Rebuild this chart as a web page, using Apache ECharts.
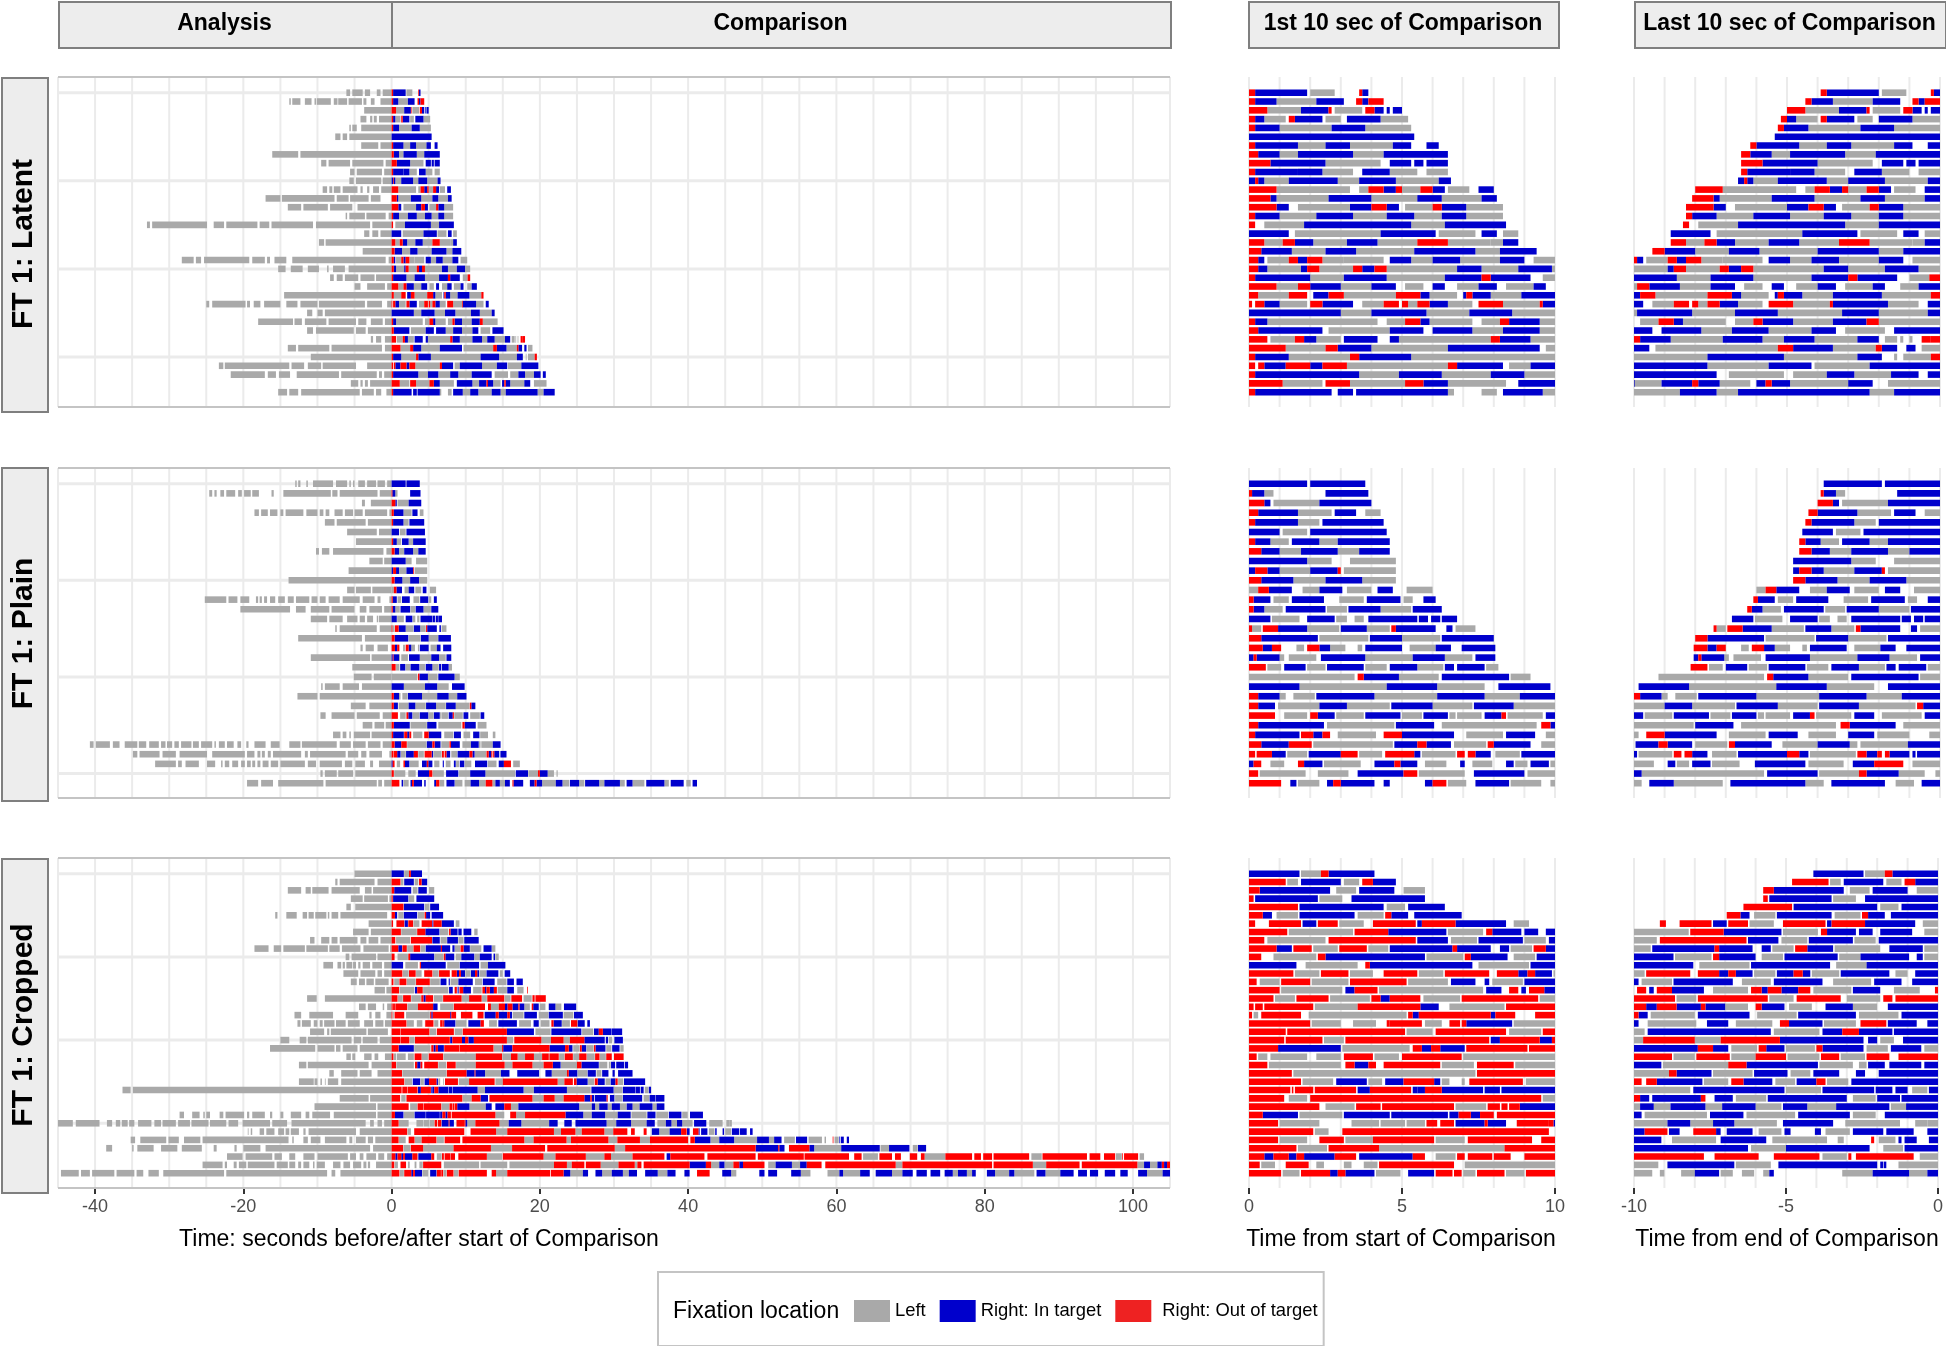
<!DOCTYPE html>
<html><head><meta charset="utf-8">
<style>html,body{margin:0;padding:0;background:#fff}#c{width:1946px;height:1346px}</style>
<script src="https://cdn.jsdelivr.net/npm/echarts@6/dist/echarts.min.js"></script>
</head><body><div id="c"></div>
<script>
// Comparison rows: tokens are <code><end second>; g=Left, b=Right in target, r=Right out of target, _=no fixation.
const latentComparison = [
"r.2 b1.9 _2 g2.8 _3.6 r3.7 b3.9",
"r.2 b.9 g2.2 b3.1 _3.5 r3.7 b3.9 r4.4",
"r.6 _.6 g1.7 b2.6 r2.7 _2.8 g3.7 _3.8 r4.1 _4.1 b4.4 _4.5 b4.6 _4.7 b5",
"r.2 b.5 g1.2 _1.3 r1.5 b2.4 _2.5 g3 _3.2 b4.3 g5.2",
"r.2 b1 g2.7 b3.8 g5.3",
"b5.4",
"r.2 b1.6 g2.5 b3.3 g4.7 b5.3 _5.8 b6.2",
"r.3 b1 g1.6 b3.4 g4.4 b6.5",
"r.7 b2.5 g4.3 _4.6 b5.3 _5.4 b5.7 _5.8 b6.5",
"r.2 b1.6 _1.6 b2.4 g3.4 _3.7 b4.6 g5.5 _5.8 g6.5",
"b.2 r.3 b.5 g1.3 b2.9 g3.6 b4.8 g6.2 b6.6",
"r.9 _.9 g3.3 _3.6 g3.9 r4.4 b4.8 r5 g5.6 r6 b6.4 _6.5 g7.2 _7.5 b8",
"r.7 b.9 g2.6 b4 g5.5 b6.3 g7.6 b8.1",
"r.9 b1.3 _1.6 g3.3 b4 r4.5 b4.9 _5.1 g6 r6.3 b7.1 g8.3",
"r.2 b1 g2.2 b3.4 g4.5 b5.4 g6.3 b7.1 g8.3",
"r.2 _.5 g1.8 b5.3 g6.4 b8.4",
"b1.3 _1.5 g4.3 b6.1 _6.2 g7.4 _7.6 b8.1 _8.3 g8.8",
"r.5 g1.1 r1.5 b2.1 g3.2 b4.2 g5.5 r6.5 g7.9 _7.9 g8.3 b8.8",
"r.4 b1.4 g2.5 b3.5 g5.4 b7.4 g8.2 b9.4",
"r.3 b.5 _.6 g1.3 r1.6 b1.9 r2.4 g3.1 g4.4 _4.6 b5.3 g6 b6.9 g8.2 b9 _9.3 g10.2",
"r.3 b.6 g1.7 b1.9 r2.3 g3.4 r3.7 b4.1 r4.5 g6.8 b7.6 g8.8 b9.9 g10.6",
"r.2 b2 g3.1 b4.5 g6.4 b7.6 r7.9 b9.2 _9.6 g10.25 r10.6",
"r.9 g1.6 r2 b3 g4 b4.8 _5.1 g5.7 _6 b6.4 _6.8 g7.5 b8.1 _8.4 g9.3 b9.7 _10.2 g10.8 b11.5",
"r.3 g1.3 r1.9 _2.1 b2.6 r3.1 g4.8 r5.6 b5.9 g6.8 _7 b7.1 r7.3 b7.9 g8.9 b10.5 g12.1 r12.4",
"r.1 _.2 r.5 b1 g1.9 _2 r2.4 b3.4 _3.7 g4.4 r4.9 _5 r5.2 g5.5 r5.9 b6.5 g7.3 _7.5 r8.3 g9.5 r9.6 b11.4 g12.4 _12.7 b13.1",
"b3 g4 b5.8 g7.2 b8.6 g10.7 b11.9 g13.5 b13.9",
"r.2 b.6 g4.2 _4.5 g5.1 r5.6 b5.9 g7.3 _7.6 g8.2 r8.5 b9.5 g10.8 b11.9 r12.3 g14.3",
"r.3 b2.4 _2.6 g4.6 b5.7 _6 b7.3 g8.3 b9.5 g10.9 b11.7 _12 g13.3 _13.6 b15.1",
"r.6 _.7 g1.5 r1.8 b2.2 g3 _3.1 b4.2 _4.6 b4.9 g7.9 r8.2 b9.2 g10.9 b12.2 g12.9 b13.9 g15.3 b16 _16.2 g16.6 _16.7 g16.8 _17 g17.1 _17.4 r17.7 r18",
"r1.2 g2.5 r2.9 b4 g6.5 b9.5 _9.7 g13.7 r14.2 b15.5 g16.9 r17.1 b17.6 _17.9 b18.2 _18.4 g19",
"r.2 b1.3 g3.3 r3.6 b5.3 g12 b14.5 g16.9 b17.7 _18.1 g18.2 _18.4 g19.3 r19.6",
"r.2 _.3 r.5 b1.2 r2 b2.4 r3.2 g6.5 r6.8 b8.3 _8.5 g9.2 b12.2 g14.2 b15.6 _15.7 g17.5 b19.8",
"r.2 b3.6 g4.9 b6.3 g7.9 b9 g10.8 b13.5 _13.9 g15.7 _16 g17.1 b18 g19.2 b20.1 _20.4 b20.8",
"r1.1 g2.4 _2.5 r3.3 g5.1 r5.7 b6.5 g8.4 _8.8 b10.9 g11.8 b12.8 r13 b13.7 g14.7 _14.9 b15.2 r15.4 b16 g17.9 b18.7 _19.2 g20.9",
"r.2 b2.7 _2.9 b3.4 _3.5 b6.5 g6.7 _7.6 g8.1 _8.3 b9.6 g10.6 b11.7 g13.5 b14.7 g15.4 b19.7 g20.5 b22"
];
// Analysis rows: seconds before Comparison, alternating end of a Left fixation and end of the gap after it.
const latentAnalysis = [
"1.2 1.5 2 2.9 3.6 3.9 5.3 5.6 6.1",
"1.5 2.3 2.8 3.4 3.8 4 5.8 6 7.2 7.3 7.8 8.2 10.1 10.2 10.4 10.8 11.7 12.3 13.4 13.6 13.8",
"3.7",
"1.7 2 2.4 2.6 2.9 3.4 4.2",
"4.1 4.7 5.3 5.5 5.7",
"5.7 6 6.6 6.9 7.6",
"1.5 1.8 4.1",
"12.3 12.6 16.1",
"0.8 1.1 5.3 5.6 8.5 8.8 9.5",
"1 1.3 4.7 5 5.6",
"1.2 1.4 4.8 5.1 5.7",
"1.4 1.7 2.5 3 3.3 3.9 4.2 4.6 6.6 6.9 7.8 8 8.4 8.7 9.3",
"0 1.5 2.8 3.1 5.6 5.8 7.4 7.7 14.8 15 17",
"4.6 5.3 8.3 8.6 11.9 12.2 14",
"0.4 0.8 3.4 3.6 5.7 6 6.2",
"2.6 2.9 10.2 10.6 16.2 16.5 17.8 18.1 22.3 22.6 24 24.9 32.3 32.6 33",
"1.5 1.8 2.6 3 3.7",
"8.9 9.1 9.8",
"3.9",
"0.4 0.8 13.4 14.2 15.8 16.4 16.8 17.1 18.8 19.2 25.3 25.7 26.4 26.7 28.3",
"5.8 6.3 7.9 8.5 8.7 9.8 11.3 12 13.6 14.3 15.3",
"2.1 2.3 4.2 4.5 6.3 6.6 7.4 7.8 8.3",
"0.6 0.9 3.3 4.2 5",
"14.5",
"0.6 1.3 3.3 3.6 9.8 10 12.3 12.7 14.2 15 17.2 17.7 18.6 19.1 19.5 19.7 24.2 24.6 25",
"9 9.3 10 10.7 11.4",
"0.9 1.2 2.8 3.4 4.5 4.8 8.5 8.8 11.7 12.1 13.1 13.3 18",
"3.2 3.5 4.8 5.1 10.2 10.6 11.4",
"0.9 1.4 2.1 2.5 2.8",
"0.9 1.3 8.1 8.4 12.6 12.9 14",
"10.9",
"3.3 4.8 9.3 9.5 11.3 11.8 13.5 13.8 22.5 22.7 23.3",
"1 1.3 1.7 2 6.8 7.1 12.8 13.7 15.2 15.6 16.7 17.1 21.7",
"2.9 3.2 3.6 3.9 4.2 4.5 5.5",
"0.7 1.4 2.1 2.4 4 4.3 12.2 12.6 13.8 14.1 15.3"
];
const plainComparison = [
"b1.9 _2 b3.8",
"r.1 b.5 _.5 g.8 _2.5 b3.9",
"r.5 b.7 _.8 g2.3 b4",
"r.3 b1.6 _1.6 g2.7 _2.8 b3.5 _3.8 g4.3",
"r.2 b1.6 _1.6 g2.3 _2.4 b4.4",
"b1 _1.1 g1.9 _2 b4.5",
"r.2 b.7 _.7 g1.3 _1.4 b2.3 _2.3 g2.9 _2.9 b4.6",
"r.4 b1 g1.7 b2.9 g3.6 b4.6",
"b1.9 g2.7 _3.3 g4.8",
"b.2 r.6 b1 g2 b2.9 r3 _3.1 g4.8",
"r.4 b1.45 g2.5 b3.7 g4.8",
"g.3 r.65 b1.4 _1.75 g2.3 b3.05 _3.2 g4 _4.2 b4.7 _5.15 g6",
"r.15 b.7 _.8 g1.3 _1.4 b2.45 _2.95 g3.75 _3.85 b4.95 _5.05 g5.35 _5.7 b6.1",
"r.15 b.5 _.5 g1.1 _1.2 b2.5 _2.55 g3.2 _3.25 b4.3 g5.3 _5.35 b6.3",
"b.7 _.75 g1.65 _1.9 b2.8 _2.85 g3.2 _3.45 g3.75 _3.9 b5.5 _5.55 b5.85 _5.95 b6.25 _6.3 b6.8",
"r.1 g.4 _.45 r.95 b1.9 g2.95 _3 b3.85 g4.6 _4.65 r4.8 b6.1 _6.45 b6.65 _6.75 g7.4",
"r.4 b2.25 _2.3 g3.9 _3.95 b5 g6.25 _6.3 b8",
"r.45 b.75 r1.05 _1.55 g1.8 _1.9 r2.3 b2.65 g3.15 _3.55 g3.7 _3.8 b5 _5.25 g6.1 b6.6 _6.95 b8.05",
"b.15 r.25 b1 g1.15 _1.3 g2.2 _2.35 b3.8 g5.35 b6.4 g7.3 _7.4 b8.05",
"r.55 _.6 g1.05 _1.15 b1.85 _1.9 g2.5 _2.55 b3.75 _3.8 g4.5 _4.6 b5.5 g6.35 _6.4 b6.7 _6.8 b7.7 _7.75 g8.15",
"g3.45 _3.55 r3.75 b4.9 g6.2 _6.3 b8.5 _8.55 g9.2",
"b1.65 g4.5 b6.15 g7.7 _8.15 b9.85",
"r.3 b1 g1.2 _1.45 g2.15 _2.2 b4.1 g6.15 b7.7 g8.85 b10.1",
"r.3 b.85 _.95 g2.3 b3.2 g4.6 _4.65 b6 g7.3 _7.35 b8.65 g10.5 _10.55 r10.75 b11.3",
"r.85 _1.15 g1.9 _2 r2.25 b2.8 _2.85 g3.75 _3.8 b4.95 _5 g5.65 _5.7 b6.5 _6.55 g6.75 _6.8 g7.6 _7.7 b8.25 r8.4 _8.45 g9.6 _9.7 b10.35 _10.6 g11.9 _12 b12.5",
"r.3 b2.45 _2.55 g4.75 _4.8 b6.05 _6.3 g9.4 _9.55 r9.85 b11.35 _11.6 g12.8",
"r.2 b1.65 _1.7 r2.1 b2.4 r2.65 _2.9 g4.15 _4.4 r5 b6.7 _7.1 g8.3 _8.4 b9.35 _9.7 g10.6 _11 b11.85 _11.95 g13 _13.65 g14",
"r.4 b1.3 r2.05 _2.1 g4.7 _4.75 b5.5 r5.8 b6.6 _6.7 g7.75 _7.8 r8 b9.2 _9.55 g10.7 b11.75 g12 _12.1 g13.65 b14.7",
"r.2 _.25 r.75 b1.2 _1.25 g1.9 _1.95 b3 r3.55 _3.6 g4.35 _4.45 r5.4 b5.6 _5.65 g6.75 _6.8 r7.05 _7.15 r7.4 b7.9 _8.05 g8.85 _8.9 b10.5 r10.9 b11.2 _11.25 g12.75 _12.8 r13.1 b13.45 r13.6 _13.7 r13.85 b14.5 _14.6 b14.7 _14.75 b15.5",
"b.15 r.4 _.7 g1.15 _1.6 r1.8 b2.4 _2.45 g3.65 _4.1 b4.75 r4.95 b5.5 _5.75 g6.45 _6.9 b7.05 _7.3 g7.95 _8.4 b8.65 _8.7 g9.1 _9.2 b9.8 _9.85 g10.75 _11.25 b12.9 _13 g14.15 _14.45 b15.15 r16.1 _16.4 g17.3",
"r.3 _.35 g1.85 _2.25 g3.25 _3.55 b5.05 r5.5 _5.55 g7.05 _7.35 b9 _9.1 g10.6 b12.65 g16.65 _16.75 b18.4 _18.45 g19.75 r20 b21.05 g21.9 _22.25 g22.4",
"r1.05 _1.35 b1.55 _1.6 g2.3 _2.55 b2.75 r3 b4.1 _4.4 b4.6 _5.75 b6 r6.45 _6.5 g7.1 _7.4 b8.5 _8.55 g9.55 _9.85 g10.65 b11.8 g12.7 r13.6 g14 b14.6 g15.3 b15.95 _16.3 r16.45 b17.75 _18.65 b19.3 r19.55 b20.3 g22.15 b23.05 g23.95 _24.05 b25.3 g26 _26.1 b28 g28.7 b30.8 g31.45 _31.7 b32.5 g34.1 _34.35 b36.8 g37.4 _37.65 b39.4 _39.75 g40.35 _40.6 b41.2"
];
const plainAnalysis = [
"0.6 0.9 1.9 2.1 3.3 3.6 4.5 5 5.2 5.5 5.7 6 7.5 7.9 10.6 11.3 11.5 12.3 12.6 12.8 13",
"1.6 1.9 7 7.3 8 8.2 14.6 15.9 16.2 17.9 18.8 19 19.9 20.2 20.7 21.1 22.3 22.6 23.1 23.6 23.9 24.2 24.6",
"2.8 3.6 4",
"0.3 0.6 3.6 3.9 5 5.2 6.3 6.6 7.7 8.4 8.9 9.2 9.7 10 11.5 11.9 14.3 14.6 15 15.4 16.4 16.7 17.6 17.9 18.5",
"3.2 3.5 7.4 7.7 9",
"1.7 2 6",
"4.8",
"0.7 1.1 7.9 8.4 9.4 9.8 10.2",
"1 1.2 3",
"5.8",
"13.9",
"2.6 2.8 4.8 5 6",
"0.3 1.5 1.9 2.3 3.9 4.3 6.6 7 8.5 8.9 9.7 10 10.8 11.1 12.9 13.2 14 14.4 15.3 15.7 16.4 16.8 17.2 17.5 17.8 18 18.3 19.2 20.4 20.8 22 22.3 25.2",
"1 1.3 3 3.4 4.3 5 8.1 8.4 10.9 11.6 12.9 13.7 20.4",
"1.7 1.8 2 2.5 3.3 3.6 4.3 4.6 6 6.6 8.4 8.7 10.9",
"1.6 2 7 7.4 7.6",
"3.6 4 12.6",
"0 0.5 1.9 2.4 3.5 3.9 4.2",
"2.7 2.9 10.9",
"5.3",
"2.4 2.7 5.1",
"4 4.4 6.6 7 9 9.3 9.5",
"9.7 10 12.7",
"3 3.5 5.5",
"1.2 1.6 4.7 5 8.1 8.9 9.6",
"0.8 1 2.3 2.6 3.9",
"2.7 2.9 5.1 5.5 5.7 6.1 6.6 6.9 7.9",
"1.2 1.5 3.2 3.5 5.2 5.5 7 7.4 12.1 12.3 13.8 15.1 16.3 17 18.5 19.3 19.6 20.3 20.8 21.3 22.2 22.5 23.3 23.7 23.9 24.2 25.7 26 26.8 27 28.4 28.7 29.3 29.6 30.3 30.5 31.1 31.4 32.7 33.1 34.1 34.3 36 36.7 37.6 38 39.9 40.2 40.7",
"0.3 1.3 3 3.4 4.1 4.5 5.9 6.2 11 11.3 11.7 12.2 16 16.3 16.7 17.1 17.5 17.7 18.1 18.5 19.5 19.8 24.2 24.9 28.6 29.1 30.9 31.3 34 34.3 34.9",
"1.7 2.5 2.9 3.6 4.9 5.3 6.3 6.7 9.7 10.2 11.3 11.7 15 15.3 16.3 16.6 17.4 17.7 18.1 18.4 18.8 19 19.5 19.8 20.3 20.7 21.5 21.9 22.5 22.8 23 23.8 24.9 26 27.8 28.3 28.8 29.1 31.9",
"4.9 5.2 7.2 7.4 9 9.3 9.6",
"1 1.3 1.8 2 8.9 9.2 15.3 16 17.6 18 19.5"
];
const croppedComparison = [
"b1.65 _1.7 g2.35 _2.35 r2.6 b4.1",
"r1.2 _1.25 g1.6 _1.7 b3 _3.1 g3.6 _3.7 r4.05 b4.8",
"r.35 b2.65 _2.85 g3.5 _3.6 b4.75 _5.05 g5.75",
"r.15 _.2 b2.25 _2.3 g3.05 _3.35 b5.75",
"r1.6 _1.65 b4.4 _4.5 g5.1 _5.2 b6.4",
"r.45 b.75 _.9 g1.6 _1.65 b3.45 _3.55 g4.4 _4.45 r4.65 b5.2 _5.4 b6.95",
"r.2 _.65 r1.7 _1.75 b2.2 _2.25 r2.9 _2.95 g3.75 _4.05 r5.45 _5.5 b5.65 r6.75 b8.4 _8.65 g9.15",
"r1.25 _1.3 g3.4 _3.45 r4.55 b6.45 _6.5 g7.65 _7.75 r7.95 b8.9 _9 b9.45 _9.7 b10.75 _11.15 g11.6",
"r.5 _.6 g2.5 _2.6 r5.45 _5.5 b6.5 _6.6 g7.45 _7.5 b8.95 _9 g9.7 _9.8 b11.75",
"r.9 b1.4 _1.45 r2.05 _2.1 g2.9 _2.95 r3.85 _3.9 g4.55 _4.6 b6.65 r6.8 b7.9 _8.2 b8.5 _8.55 g9.25 _9.3 r9.7 b10.55 _10.6 g12.1 _12.4 b13.5 _13.55 g14",
"r.4 _.8 g2.2 _2.25 r2.5 b5.75 _5.8 g7 _7.05 r7.25 b8.45 _8.65 g9.35 _9.4 b11.15 _11.2 g11.9 b13.5 _13.75 b13.95 _14 g14.45",
"b1.55 _1.85 g3.55 _3.8 r3.95 b7.3 _7.5 g9.15 _9.2 b11.8 _12 g13 b15.35",
"r1.45 _1.5 g2.3 _2.35 r3.25 _3.3 g4.05 _4.4 r5.5 _5.55 g6.35 _6.4 r7.85 _8.1 r8.8 b9.1 r9.35 b9.9 _9.95 g10.65 _10.7 b11.25 r11.55 b11.8 _11.85 g12.75 _12.8 b14.4 _14.6 g15 _15.25 b16",
"r.25 _.35 g1 _1.05 r2 _2.05 g3.25 _3.3 r5.15 _5.2 g6.5 _6.6 b7.4 _7.7 b7.85 _7.95 g8.95 _9 b10.95 _11.25 g12.2 _12.3 b13.9 _14.25 g15.5 _15.6 b16.5 _16.85 b17.7",
"r1 _1.05 g3.05 _3.15 b3.45 r4.2 _4.25 g7.65 _7.75 b8.25 _8.5 r8.8 _8.9 b9.05 _9.15 r9.65 b10.7 _11 g12.15 _12.25 r12.6 b12.8 r13.25 b13.8 r14.2 _14.3 g15.55 _15.6 b16.5 _16.95 g17.8 _18.3 r18.4",
"r.8 _.85 g1.5 _1.55 r2.6 _2.65 g3.95 _4 r4.3 b4.6 _4.6 r5.6 _5.7 g6.9 _6.95 r9.45 _9.5 g10.45 r12.15 _12.2 g12.85 _12.9 r15.2 _15.25 g16.05 _16.15 r17.6 _17.8 g18.9 _19 r19.3 _19.4 r20.8",
"r.15 _.2 r.45 _.5 r2.1 _2.15 g3.55 _3.55 r5.6 b6.2 _6.55 g8.35 _8.4 r12.6 _13 r13.4 g14.45 r15.3 b15.65 r16.3 b17.1 r17.25 b17.9 g18.65 _18.9 r19.1 b19.85 _20 g20.75 _21.2 b22.1 g22.9 _23.25 b24.9",
"r.1 _.15 g.3 _.4 r1.7 _1.95 g5.15 _5.2 r5.35 b5.55 r7.9 b8.05 r8.7 _9.35 r10.9 _11.6 r12.4 _12.55 b14.05 r14.45 b15.6 r15.95 b16.25 _16.35 g17.8 _17.9 b19.6 _19.85 g21.15 _21.2 b23.1 _23.2 g24.5 _24.6 b25.8",
"r2 _2.05 g3 _3.4 g4.15 _4.5 r4.6 _4.6 r5.65 _5.75 g6.3 _6.55 r6.9 _6.95 r7.1 b8.6 _8.65 g10.1 _10.35 b12 r12.45 _13.15 g14.2 _14.4 b16.9 _17.2 g18.8 _19.15 b19.85 _20.1 g21.3 _21.55 r21.85 b22.95 _23 g24.05 _24.2 r25.05 _25.1 b26.05 _26.4 b26.75",
"r1.2 _1.25 r5.1 _5.15 g6 _6.1 r8.4 _8.5 g9.55 _9.6 r15.55 b19.2 _19.4 g21.45 _21.55 b25.6 _25.7 g27.2 _27.3 b27.95 r28.5 b29.6 _29.65 b31.1",
"r1.15 _1.2 r2.4 _2.45 g3.1 _3.15 r7.85 _7.9 b8.2 r9.5 b9.9 r10.35 b11.1 r15.55 g16.4 _16.55 r20.2 g21.5 r23.2 g24.05 r26 b28.75 _28.9 b29.2 _29.3 g29.75 _30.05 b31.2",
"r.95 b3 _3.05 g5.25 _5.35 r5.65 b5.95 r6.25 _6.25 b7.05 _7.1 r9.1 _9.15 r13.75 _13.8 g14.9 r15.05 b16.3 r21.3 b23.4 r23.9 b24.4 _24.5 g25.35 _25.4 r25.65 b26.25 _26.3 g27.25 _27.3 r27.5 b28.85 _28.95 g29.65 _29.75 b30.75 _30.85 g31.3",
"r.25 _.3 g.6 _.7 g1.9 _2.2 g3 _3.1 r4.05 _4.1 g4.9 _5 r6.95 _7 g11.35 r14.9 _14.95 g16.1 r17 g18 r19.2 g20.3 r21.2 g21.3 r22.55 _22.6 g23.3 _23.35 r24.45 _24.5 g25.3 r26.3 _26.35 g27.4 _27.45 r28.05 _28.1 g28.9 _28.95 r29.7 _30 r31.3",
"r.6 _.65 g3 _3.15 r3.45 b3.9 r4.15 _4.4 r6.25 _6.3 g7.35 _7.45 r8.65 _8.7 g11.35 r15.25 g16.3 r19 g20.5 r21.75 b22.8 _22.85 g25 r25.6 b27.95 _28 g29.1 _29.3 g29.55 _29.6 b30.15 _30.3 b31.35 _31.45 b31.9",
"r1.4 _1.45 g7.4 _7.45 r10.1 b11.2 r11.3 b12.6 g14.75 b15.9 _16.95 b19.9 _20.75 b21.6 g23.65 r23.9 b25.05 _25.1 g26.4 _26.45 b27.55 _27.65 g28.3 _28.4 b29.25 _29.8 b30.1 _30.55 b32.5",
"r1.7 _1.75 g2.75 _2.85 b3.85 _3.9 g4.35 _4.45 b5.05 r6.05 b6.25 _6.3 g6.55 _6.95 g7.05 _7.2 r8.95 _9.05 g10.45 r13.9 _14 g15 r22.4 g23.3 r24.45 _24.6 r24.95 b26.45 _26.5 g27.3 _27.4 r27.8 b28.75 _28.85 g29.5 _29.55 b30.2 r30.5 _30.55 g31.25 _31.35 b34.2",
"r1.35 _1.4 r1.45 _1.5 r2.1 _2.15 r3.5 _3.55 b3.95 r5.3 _5.35 b5.5 _5.5 b5.75 r6.3 b7.65 _7.7 b8.2 _8.25 b11.6 g12.6 b17.8 g19.2 b23.65 g26.85 _26.95 b29.95 _30 g31.15 _31.2 b32.9 _32.95 b33.5 _33.6 b34 _34.15 g34.65 _34.7 b35",
"r1.15 _1.3 g1.9 _2 r9.55 _9.6 g10.8 r12 b13 _13.2 r19 g20.5 r22 g23.2 r26 b26.8 r27 b27.3 _27.4 b29 r29.15 _29.45 b30.05 _30.15 g31.15 _31.2 b33.8 _34 g34.75 _34.8 b35.55 _35.6 b36.8",
"r2.3 _2.5 g3.45 _3.5 r4.3 _4.35 r6.7 _6.75 g7.75 _7.8 r8.2 _8.25 r8.45 _8.5 r8.85 b10.5 g12.7 b13.5 _14 b15.2 r16.1 g17.1 b25.3 g27 b27.45 g28 b29.15 g29.7 b30.8 g31.65 _31.7 b32.5 g33.45 b35.2 _35.25 g35.75 b36.8",
"r.45 b1.6 _1.65 g3.05 _3.1 b4.6 _4.65 b6.5 _6.55 b6.85 r7.25 b7.55 r8 _8.1 r14 g15.2 _16 r16.8 g18 r23.45 b25.85 g27 b28.8 g30.5 b32.25 _32.35 g34.4 _34.5 b35.6 _35.7 g37.3 _37.4 b39.1 _39.2 g39.95 _40.25 b42",
"r.95 _1 g2.3 _3.35 g4.25 _4.3 g5.1 _5.15 g5.75 _5.8 r6.15 _6.25 r6.7 _6.75 b7.7 r7.8 b8.4 _8.75 r9.8 r9.95 b10.2 g11.3 r14.55 g15.8 b17.5 g21.25 b22.4 _23.3 b24.3 _24.8 b29 g30.3 b32.3 g34.4 b35.5 _35.85 g37 b37.75 g38.5 b39.2 g40.6 _40.8 b42.45 _42.85 g44.65 _45.15 g45.55 g45.9",
"r2.1 _2.15 g2.6 _3.05 r9.8 _10.65 r14.1 g15.6 r21.9 g22.85 r24.8 g25.65 r28.7 g29.9 r31.8 _32.3 r32.8 _34 r34.4 _35.1 b36.1 g37.5 b39.05 r39.8 _39.85 b40.2 _40.65 r41.4 b41.55 _41.75 b42.6 _42.8 g43.55 _43.65 b43.85 _44.65 b44.85 _45 g45.8 _45.9 b46.9 _47 b47.9 _48.35 b48.7",
"r.95 _1 g1.9 _2.3 r3.1 _3.15 g4.05 _4.05 r6.05 _6.1 g7.05 _7.15 r9.25 _9.55 r17.9 g19.15 r23.6 g24.2 r29.25 g30.45 r33.5 g34.85 r40 _40.3 r40.9 b43 g44.2 b46.2 g49.3 b50.9 g51.6 b52.6 _52.95 g54.4 _54.55 b56.05 _56.25 g58.05 _58.4 g58.6 _59.5 r59.6 _59.75 g60.3 _60.4 b60.5 _60.6 b61 _61.4 b61.7",
"r1.55 _1.6 g2.55 _2.6 r4.25 g8.35 r13.4 g16.25 r20.7 _21 r30.1 g31.5 r49.1 b52.15 r52.3 b53 _53.6 r56.35 b57 g60.65 b65.85 _65.95 g67.1 b69.85 _70.3 g70.95 _71 b72.1",
"r.5 b.8 r1.3 b1.55 r1.8 b2.8 r3.5 _3.6 b5.35 r5.75 _6.1 g6.75 _6.8 r7.05 _7.15 r7.95 _8 r8.55 _9 r12.85 g14.9 _15 r20.5 g22.1 r26.2 g28.7 r29.6 g32.5 r36.8 _37.1 b37.6 r42.2 _42.6 r49.1 _49.4 r55.6 _55.7 r61.7 _62.4 r63.4 _63.6 g65.6 _65.8 r67.5 _67.9 r68.7 _69.9 r70.9 _71.4 r71.9 g74.7 r78.3 _78.6 r79.5 _79.8 r81 _81.2 r86 _86.3 g87.7 _87.8 r93.8 _94.15 r95.6 _96.1 r97.6 _97.7 g98.5 _98.55 r98.65 _98.8 r100.7 _100.9 g101.5",
"r.35 _.4 g.85 _1.2 r1.95 _2.2 g2.45 _3.1 g3.35 _3.75 g4.2 _4.25 r6.7 _7.05 g11.8 _12 g15.6 _15.9 g21.9 r23.65 g24.3 r26 _26.2 r28.2 g30.6 r32.8 g33.15 r33.7 _34 r40.2 b42.4 r43.1 g44.2 b44.9 g46.1 r46.9 b47.4 r50.3 _50.8 g51.8 b54 g55.1 b56 r58 _58.5 r68 g68.9 r81 _81.2 r86.5 g88.3 r92.8 _93.1 r100.6 g101.5 b102.3 g103.3 b103.9 r104.2 b104.6 r105 b105.9 g106.8 _107.1 b109.3 _109.35 g110.5 _110.75 b114 _114.1 b114.2 _114.22 b114.3 _114.7 g116",
"r1.05 _1.1 g1.65 _1.7 r2.65 b2.9 r3.15 b4.1 _4.15 g4.95 _5.2 b6.05 _6.1 r6.65 _6.7 r6.95 _7 g7.4 _7.45 r8.35 _8.4 g9 _9.05 r12.85 _13.5 r14.1 g15.6 r21.4 _21.5 r23.2 b24.1 g25.8 b26.5 _27.5 b28.4 g29.7 b31.2 g32 b33.1 _34.2 b35.9 g37.2 b38.3 _39.5 b40.2 _41.2 r42.9 _44.6 b45.8 g46.5 _49.6 b50.3 _50.8 b52 _53.9 b55.2 g56.5 _58.8 g60.4 b60.9 g63.2 b64.5 _65.3 b67.5 g68.9 b70.3 _70.8 b72.2 _72.7 b74 _74.6 b75.7 g76.4 b77.6 g78.3 b78.8 _80.3 b81.4 g83.3 b84 g86.7 _87 b88.2 g90.2 b92 _92.6 b93.8 _94.2 b95.3 _96.2 b97.6 _98.3 b99.3 _100.7 b101.9 g104 b105.3 g107 _109.9 g110.6 _110.85 g111 _111.55 g112 b112.8 _112.85 g113.25 _113.55 g113.95 _114.25 g114.45 b114.6 _116.85 g117.85 b119.05 g119.65 b120"
];
const croppedAnalysis = [
"5",
"1.9 2.3 7 7.3 7.6",
"2.5 2.7 3.6 4.3 8.1 8.5 10.7 10.9 11.6 12.2 14",
"0.3 0.5 3.7 3.9 5.5",
"4.9 5.5 6.1",
"0 0.6 6.9 7.2 8.1 8.4 8.6 8.8 10.3 10.5 11.2 11.4 12 12.8 14.2 15.4 15.7",
"3.1",
"2.8 3.1 5.2",
"1.5 1.8 3.1 3.4 4.2 4.6 7 7.3 8.1 8.4 9.5 10.4 11",
"0.2 0.4 3.8 4.2 6.7 7 8.4 8.6 11.5 11.7 14.6 14.9 15.9 16.6 18.5",
"1.9 2.1 5.4 5.7 6.2",
"1 1.3 2.6 2.9 3.9 4.2 4.5 4.8 5.2 5.3 6.1 6.3 6.6 6.8 7.3 7.9 9.2",
"1 1.3 1.9 2.2 4.2 4.5 6.5",
"0 0.4 2.2 2.4 3.4 3.6 4.4 4.7 5.5",
"0.7 0.9 2.3",
"9 10.1 11.4",
"0.6 1 1.2 2.1 3.2 3.5 4.4",
"0.7 1.5 2.2 2.7 3 4.5 6.2 7.9 11.1 12.2 13.1",
"0.9 1.1 2.2 2.5 3.7 4.3 5.9 6.2 7.5 7.7 9.1 9.3 9.7 10 10.5 10.9 12.1 12.3 12.7",
"0 0.5 3.2 3.4 8.2 8.4 8.7 9.1 11",
"1.6 1.9 3.9 4.1 5.1 5.4 11.3 11.5 12.4 13.8 15",
"4.3 4.6 6.6 6.9 7.5 7.7 10 10.3 16.4",
"0.9 1.8 2.3 2.7 3.7 4.9 5.3 5.5 6.1",
"2.7 3.1 11.3 11.5 12.5",
"1.9 2.7 4.3 4.6 6.8 7.8 8.4",
"6.8 7.2 8.6 8.9 9 9.4 9.6 10 10.4 10.5 12.5",
"34.9 35.2 36.3",
"2.9 3.1 7",
"1.9 2.1 10.4",
"1.9 2.1 7.8 8.3 10.7 11.1 11.6 12.2 13.6 14.6 15 16.1 16.4 17.1 18.8 19.2 19.5 19.9 22.4 22.7 23.2 24.5 25 25.2 25.4 25.9 26.9 28 28.6",
"1 1.3 1.9 2.4 2.9 3.5 13.5 14.1 16.1 16.4 20.1 20.7 22 22.3 24.5 24.7 27 27.2 28.8 29.1 30.9 31.1 32 32.4 34.2 34.7 35.4 35.6 36.4 36.6 37.2 37.7 38.4 39.4 42.6 43 45",
"4.3 4.8 11.2 11.6 11.9 12.5 13.6 13.8 14.3 14.5 15.3 15.8 16.9 17.2 17.8 18.8 19 19.3 19.4",
"2.2 2.5 3.2 3.5 4.8 5.3 5.7 6.1 9 9.6 10.9 11.3 11.9 13.2 13.4 13.9 25.5 25.8 28 28.7 30.1 30.4 33.9 34.6 35.2",
"2.5 2.9 17 17.7 20 20.9 21.2 23.6 24 25.6 28.3 28.9 31.1 32.1 34.3 34.8 35 37.7 38.5",
"0.6 1 1.8 2.1 3.4 3.8 4.3 4.8 5.6 5.9 10 10.4 11.9 13 13.8 14.8 15.8 16.1 19.7 20.1 22.2",
"2.1 2.9 3.2 3.4 3.8 4.1 5.2 5.6 6.5 6.9 7.9 9 10.1 10.4 10.6 11.1 11.9 12.2 12.6 13 13.8 14 15.5 15.8 19.4 19.6 20.6 20.9 21.3 22.2 22.5 22.8 25.5",
"6.9 7.6 8.1 8.7 22.3 22.6 30.8 31.4 32.8 33.5 34.4 34.7 37.1 37.4 40.4 40.7 41.9 42.2 44.6"
];
const conditionNames = ["FT 1: Latent","FT 1: Plain","FT 1: Cropped"];
const columnNames = ["Analysis","Comparison","1st 10 sec of Comparison","Last 10 sec of Comparison"];
const axisTitles = ["Time: seconds before/after start of Comparison","Time from start of Comparison","Time from end of Comparison"];
const mainTicks = [-40,-20,0,20,40,60,80,100];
const firstTicks = [0,5,10];
const lastTicks = [-10,-5,0];
const categoryNames = {g:"Left",b:"Right: In target",r:"Right: Out of target"};
const guideRows = [0,10,20,30];

const COLORS = {g:"#a9a9a9",b:"#0000cc",r:"#ff0000"};
const FONT = '"Liberation Sans",Arial,sans-serif';
const BAR_H = 6.6;
const conditions = [
  {ana:latentAnalysis,cmp:latentComparison,top:77,stripTop:77,stripH:334},
  {ana:plainAnalysis,cmp:plainComparison,top:468,stripTop:467,stripH:333},
  {ana:croppedAnalysis,cmp:croppedComparison,top:858,stripTop:858,stripH:334}
];
const PANEL_H = 330;
const columns = [
  {left:58,width:1112,min:-45,max:105,interval:5,ticks:mainTicks},
  {left:1249,width:306,min:0,max:10,interval:1,ticks:firstTicks},
  {left:1634,width:306,min:-10,max:0,interval:1,ticks:lastTicks}
];

function parseRow(str){
  let t=0; const out=[];
  str.trim().split(/\s+/).forEach(tok=>{
    const c=tok[0], e=parseFloat(tok.slice(1));
    if(c!=='_') out.push([t,e,c]);
    t=e;
  });
  return out;
}
function parseAnalysis(str){
  const v=str.trim().split(/\s+/).map(Number); const out=[]; let prev=0;
  v.forEach((e,i)=>{ if(i%2===0 && e>prev) out.push([-e,-prev,'g']); prev=e; });
  return out;
}
function clip(segs,lo,hi){
  const o=[];
  segs.forEach(s=>{const a=Math.max(s[0],lo),b=Math.min(s[1],hi); if(b>a) o.push([a,b,s[2]]);});
  return o;
}
function barRender(params,api){
  const r=api.value(0),a=api.coord([api.value(1),r]),b=api.coord([api.value(2),r]);
  return {type:'rect',shape:{x:a[0],y:a[1]-BAR_H/2,width:Math.max(b[0]-a[0],0.6),height:BAR_H},style:api.style()};
}
function guideRender(min,max){
  return function(params,api){
    const r=api.value(0),frame=api.value(1),a=api.coord([min,r]),b=api.coord([max,r]);
    return {type:'line',shape:{x1:a[0],y1:a[1],x2:b[0],y2:b[1]},
      style:{stroke:frame?'#c4c4c4':'#ebebeb',lineWidth:frame?2.2:3}};
  };
}
function verticalRender(ymin,ymax){
  return function(params,api){
    const x=api.value(0),a=api.coord([x,ymin]),b=api.coord([x,ymax]);
    return {type:'line',shape:{x1:a[0],y1:a[1],x2:b[0],y2:b[1]},style:{stroke:'#ebebeb',lineWidth:2}};
  };
}

const grid=[],xAxis=[],yAxis=[],series=[];
conditions.forEach((cond,ci)=>{
  const n=cond.cmp.length, step=(PANEL_H-30.5)/(n-1);
  const ymin=-15.7/step, ymax=n-1+14.8/step;
  const rows=cond.cmp.map(parseRow);
  const anaRows=cond.ana.map(parseAnalysis);
  columns.forEach((col,pi)=>{
    const idx=grid.length;
    grid.push({left:col.left,top:cond.top,width:col.width,height:PANEL_H,containLabel:false});
    const bottom=ci===2;
    xAxis.push({type:'value',gridIndex:idx,position:'bottom',min:col.min,max:col.max,interval:col.interval,
      axisLine:{show:false,onZero:false},
      axisTick:{show:bottom,customValues:col.ticks,length:6,lineStyle:{color:'#333333',width:2}},
      axisLabel:{show:bottom,customValues:col.ticks,color:'#4d4d4d',fontSize:18,fontFamily:FONT,margin:10,hideOverlap:false},
      splitLine:{show:false}});
    yAxis.push({type:'value',gridIndex:idx,inverse:true,min:ymin,max:ymax,show:false,splitLine:{show:false}});
    const verts=[];
    for(let v=col.min;v<=col.max+1e-9;v+=col.interval) verts.push([v]);
    series.push({type:'custom',xAxisIndex:idx,yAxisIndex:idx,silent:true,z:1,data:verts,
      encode:{x:0},renderItem:verticalRender(ymin,ymax),animation:false,clip:false});
    if(pi===0){
      const gd=guideRows.map(r=>[r,0]).concat([[ymin,1],[ymax,1]]);
      series.push({type:'custom',xAxisIndex:idx,yAxisIndex:idx,silent:true,z:2,data:gd,
        encode:{y:0},renderItem:guideRender(col.min,col.max),animation:false,clip:false});
    }
    const byCat={g:[],b:[],r:[]};
    rows.forEach((segs,r)=>{
      const D=segs[segs.length-1][1];
      let list;
      if(pi===0) list=clip(anaRows[r].concat(segs),-45,105);
      else if(pi===1) list=clip(segs,0,10);
      else list=clip(segs.map(s=>[s[0]-D,s[1]-D,s[2]]),-10,0);
      list.forEach(s=>byCat[s[2]].push([r,s[0],s[1]]));
    });
    ['g','b','r'].forEach(c=>{
      series.push({type:'custom',name:categoryNames[c],xAxisIndex:idx,yAxisIndex:idx,silent:true,z:3,
        itemStyle:{color:COLORS[c]},encode:{x:[1,2],y:0},data:byCat[c],renderItem:barRender,animation:false,clip:false});
    });
  });
});

const strip={fill:'#ededed',stroke:'#7f7f7f',lineWidth:2};
const graphic=[];
function colStrip(x,w,label){
  graphic.push({type:'rect',left:x,top:1,shape:{width:w,height:46},style:strip,silent:true,z:5});
  graphic.push({type:'text',x:x+w/2,y:24,style:{text:label,fontFamily:FONT,fontWeight:'bold',fontSize:23,fill:'#000',textAlign:'center',textVerticalAlign:'middle'},silent:true,z:6});
}
colStrip(58,333,columnNames[0]);
colStrip(391,779,columnNames[1]);
colStrip(1248,310,columnNames[2]);
colStrip(1634,311,columnNames[3]);
conditions.forEach((c,i)=>{
  graphic.push({type:'rect',left:1,top:c.stripTop,shape:{width:46,height:c.stripH},style:strip,silent:true,z:5});
  graphic.push({type:'text',x:24,y:c.stripTop+c.stripH/2,rotation:Math.PI/2,
    style:{text:conditionNames[i],fontFamily:FONT,fontWeight:'bold',fontSize:30,fill:'#000',textAlign:'center',textVerticalAlign:'middle'},silent:true,z:6});
});
[[419,axisTitles[0]],[1401,axisTitles[1]],[1787,axisTitles[2]]].forEach(a=>{
  graphic.push({type:'text',x:a[0],y:1240,style:{text:a[1],fontFamily:FONT,fontSize:23,fill:'#000',textAlign:'center',textVerticalAlign:'middle'},silent:true});
});
graphic.push({type:'text',x:673,y:1312,style:{text:'Fixation location',fontFamily:FONT,fontSize:23,fill:'#000',textAlign:'left',textVerticalAlign:'middle'},silent:true,z:6});

const chart=echarts.init(document.getElementById('c'),null,{renderer:'canvas'});
chart.setOption({
  animation:false,backgroundColor:'#ffffff',
  grid,xAxis,yAxis,series,graphic,
  legend:{left:658,top:1272,orient:'horizontal',itemWidth:36,itemHeight:22,itemGap:14,icon:'rect',
    borderColor:'#c4c4c4',borderWidth:2,padding:[28,6,24,196],selectedMode:false,
    textStyle:{fontFamily:FONT,fontSize:18.4,color:'#000'},
    data:[{name:categoryNames.g},{name:categoryNames.b},
      {name:categoryNames.r,itemStyle:{color:'#ee2222'},textStyle:{padding:[0,0,0,6],fontFamily:FONT,fontSize:18.4,color:'#000'}}]}
});
</script></body></html>
